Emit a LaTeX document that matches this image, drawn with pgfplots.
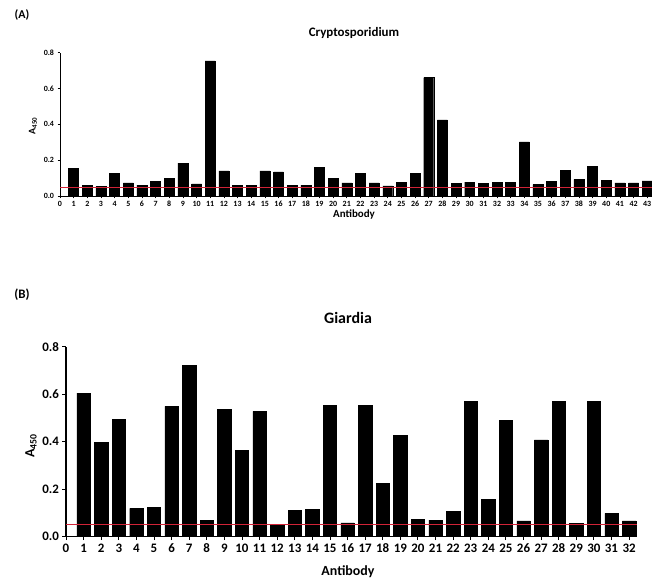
\documentclass[border=0pt]{standalone}
\usepackage{pgfplots}
\pgfplotsset{compat=1.18}
\usepackage{fontspec}
\setmainfont{Carlito}
\definecolor{cut}{RGB}{210,35,55}
\begin{document}
\begin{tikzpicture}
\path[use as bounding box] (0,0) rectangle (652bp,584bp);
% Panel A
\begin{axis}[
 at={(60bp,388bp)}, anchor=south west, scale only axis,
 width=592bp, height=143.4bp,
 xmin=0, xmax=43.35, ymin=0, ymax=0.8,
 axis lines=left, axis line style={-, line width=0.8pt},
 xtick={0,...,43}, ytick={0,0.2,0.4,0.6,0.8},
 tick align=outside, major tick length=2.5bp, tick style={black, line width=0.6pt},
 /pgf/number format/assume math mode=true,
 yticklabel style={/pgf/number format/.cd, fixed, fixed zerofill, precision=1},
 ticklabel style={font=\bfseries\fontsize{8}{9}\selectfont},
 xticklabel style={yshift=1.5bp, text height=5.5bp, text depth=0pt},
]
\addplot[ybar, bar width=0.73, bar shift=0pt, fill=black, draw=black] coordinates {
(1,0.155)(2,0.06)(3,0.052)(4,0.127)(5,0.073)(6,0.06)(7,0.08)(8,0.10)(9,0.184)(10,0.067)
(11,0.754)(12,0.14)(13,0.06)(14,0.06)(15,0.14)(16,0.134)(17,0.06)(18,0.06)(19,0.158)(20,0.099)
(21,0.073)(22,0.125)(23,0.073)(24,0.056)(25,0.077)(26,0.125)(27,0.661)(28,0.425)(29,0.07)(30,0.078)
(31,0.07)(32,0.078)(33,0.078)(34,0.302)(35,0.064)(36,0.081)(37,0.142)(38,0.093)(39,0.164)(40,0.089)
(41,0.073)(42,0.073)(43,0.084)};
\addplot[cut, line width=0.9pt] coordinates {(0,0.05)(43.35,0.05)};
\end{axis}
% Panel B
\begin{axis}[
 at={(66bp,47.3bp)}, anchor=south west, scale only axis,
 width=571bp, height=190bp,
 xmin=0, xmax=32.45, ymin=0, ymax=0.8,
 axis lines=left, axis line style={-, line width=1.1pt},
 xtick={0,...,32}, ytick={0,0.2,0.4,0.6,0.8},
 tick align=outside, major tick length=3.5bp, tick style={black, line width=0.9pt},
 /pgf/number format/assume math mode=true,
 yticklabel style={/pgf/number format/.cd, fixed, fixed zerofill, precision=1},
 ticklabel style={font=\bfseries\fontsize{13}{14}\selectfont},
 xticklabel style={text height=9bp, text depth=0pt},
]
\addplot[ybar, bar width=0.76, bar shift=0pt, fill=black, draw=black] coordinates {
(1,0.604)(2,0.397)(3,0.495)(4,0.119)(5,0.125)(6,0.549)(7,0.721)(8,0.07)(9,0.535)(10,0.364)
(11,0.528)(12,0.052)(13,0.112)(14,0.115)(15,0.553)(16,0.058)(17,0.552)(18,0.226)(19,0.428)(20,0.073)
(21,0.07)(22,0.108)(23,0.571)(24,0.156)(25,0.49)(26,0.067)(27,0.408)(28,0.571)(29,0.055)(30,0.57)
(31,0.098)(32,0.067)};
\addplot[cut, line width=0.9pt] coordinates {(0,0.05)(32.45,0.05)};
\end{axis}
% Labels
\node[font=\bfseries\fontsize{12}{13}\selectfont] at (22bp,569bp) {(A)};
\node[font=\bfseries\fontsize{13}{14}\selectfont] at (354bp,551bp) {Cryptosporidium};
\node[font=\bfseries\fontsize{11}{12}\selectfont] at (354bp,369bp) {Antibody};
\node[font=\bfseries\fontsize{10}{11}\selectfont, rotate=90] at (33bp,458bp) {A\textsubscript{450}};
\node[font=\bfseries\fontsize{13}{14}\selectfont] at (22bp,289bp) {(B)};
\node[font=\bfseries\fontsize{16}{17}\selectfont] at (348bp,266bp) {Giardia};
\node[font=\bfseries\fontsize{14}{15}\selectfont] at (348bp,12bp) {Antibody};
\node[font=\bfseries\fontsize{14}{15}\selectfont, rotate=90] at (31bp,138bp) {A\textsubscript{450}};
\end{tikzpicture}
\end{document}
